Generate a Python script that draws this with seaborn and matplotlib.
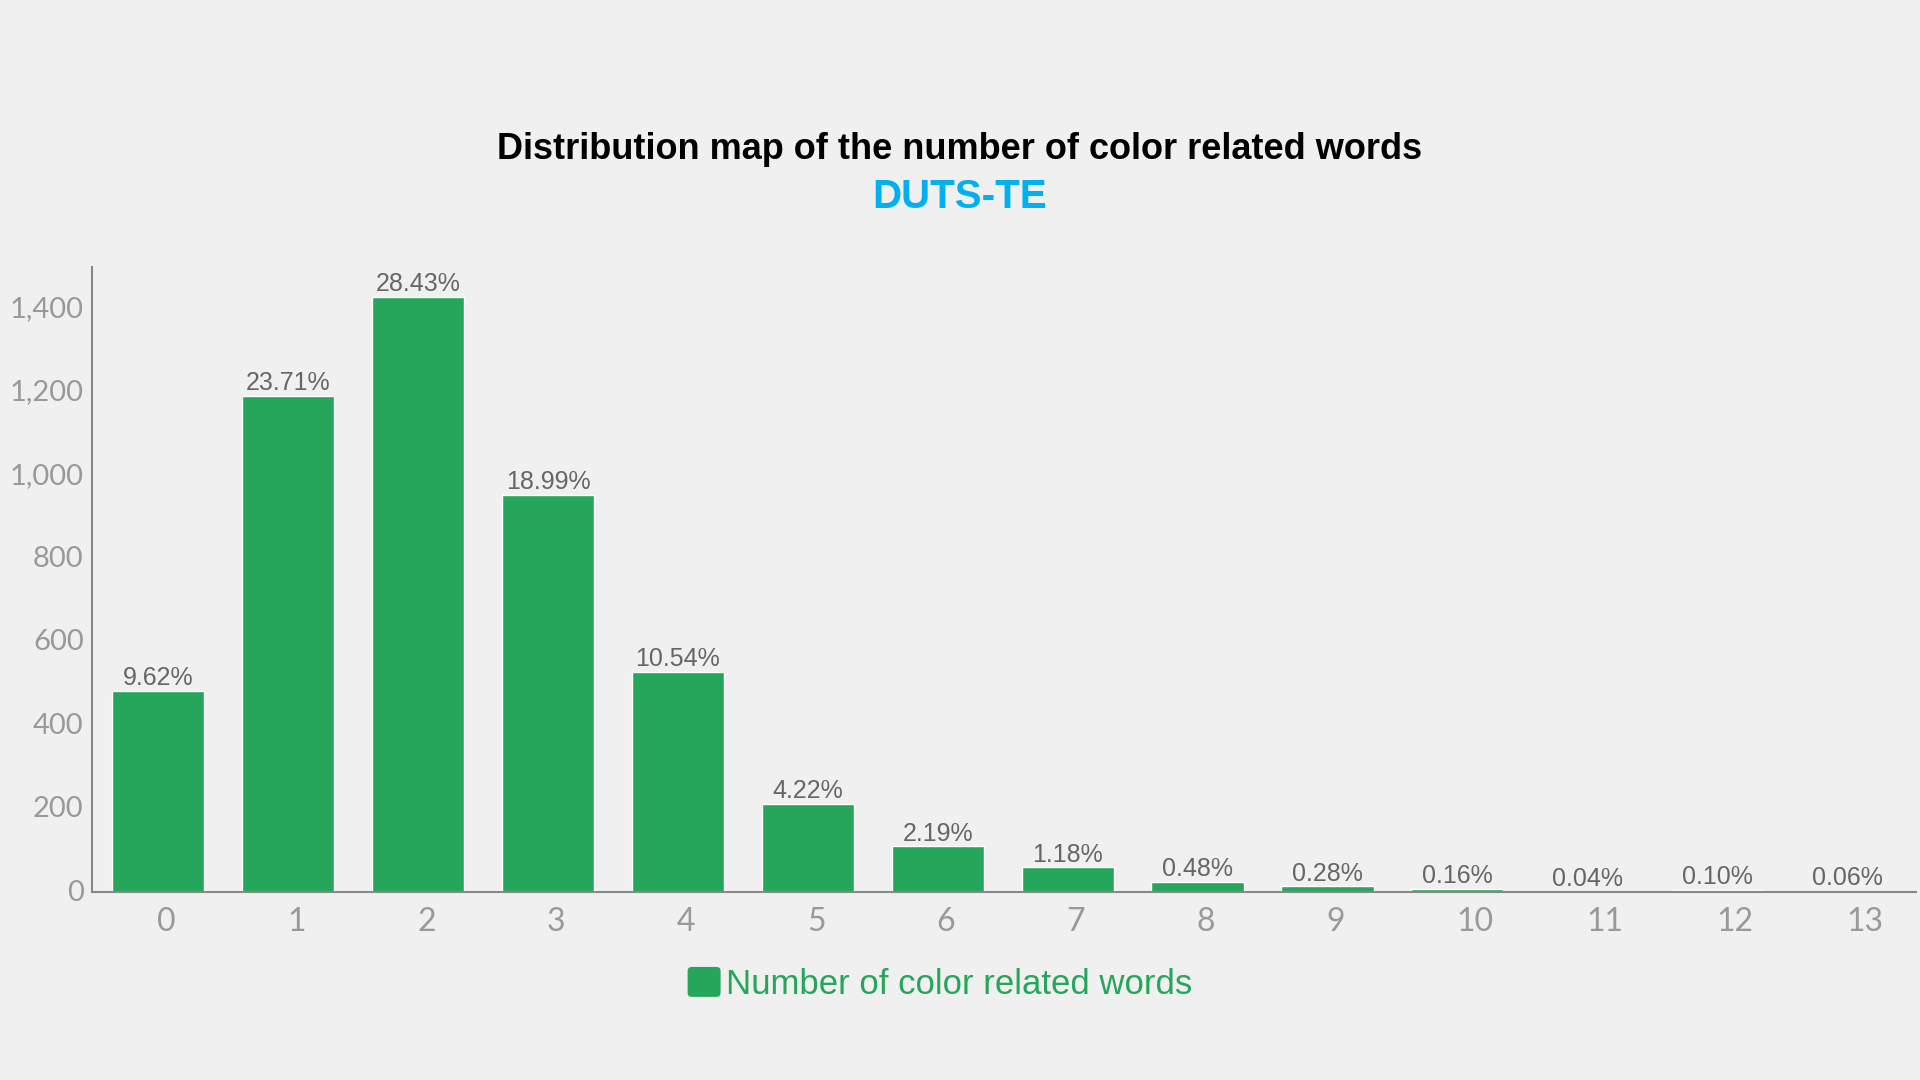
import matplotlib
matplotlib.use("Agg")
import matplotlib.pyplot as plt
import matplotlib.transforms as mtransforms
import seaborn as sns
from matplotlib.ticker import FuncFormatter
from matplotlib.patches import FancyBboxPatch, Patch
from matplotlib.legend_handler import HandlerPatch

# Données (DUTS-TE, 5019 images)
categories = [str(i) for i in range(14)]
counts = [483, 1190, 1427, 953, 529, 212, 110, 59, 24, 14, 8, 2, 5, 3]
pct_labels = ["9.62%", "23.71%", "28.43%", "18.99%", "10.54%", "4.22%", "2.19%",
              "1.18%", "0.48%", "0.28%", "0.16%", "0.04%", "0.10%", "0.06%"]
y_ticks = [0, 200, 400, 600, 800, 1000, 1200, 1400]

title = "Distribution map of the number of color related words"
subtitle = "DUTS-TE"
series_name = "Number of color related words"

bg = "#f0f0f0"
green = "#26a65b"

sns.set_theme(style="white")
plt.rcParams["font.family"] = ["Liberation Sans", "DejaVu Sans"]

fig = plt.figure(figsize=(19.2, 10.8), dpi=100, facecolor=bg)
ax = fig.add_axes([0.0479, 0.174, 0.950, 0.579])
ax.set_facecolor(bg)

sns.barplot(x=categories, y=counts, color=green, saturation=1, width=0.71, ax=ax)

# Étiquettes de pourcentage au-dessus des barres
ax.bar_label(ax.containers[0], labels=pct_labels, padding=0.5,
             fontsize=18, color="#666666")

ax.set_xlim(-0.51, 13.53)
ax.set_ylim(0, 1500)
ax.set_yticks(y_ticks)
ax.yaxis.set_major_formatter(FuncFormatter(lambda v, p: f"{int(v):,}"))
ax.set_xlabel("")
ax.set_ylabel("")

ax.tick_params(axis="y", length=0, pad=6, labelsize=21, labelcolor="#999999")
ax.tick_params(axis="x", length=0, pad=11, labelsize=23, labelcolor="#999999")

# Les libellés de l'axe x commencent au centre de la barre
x_shift = mtransforms.ScaledTranslation(-1 / 100, 0, fig.dpi_scale_trans)
for lab in ax.get_xticklabels():
    lab.set_fontfamily(["Lato", "DejaVu Sans"])
    lab.set_horizontalalignment("left")
    lab.set_transform(lab.get_transform() + x_shift)
y_shift = mtransforms.ScaledTranslation(0, 2 / 100, fig.dpi_scale_trans)
for lab in ax.get_yticklabels():
    lab.set_fontfamily(["Lato", "DejaVu Sans"])
    lab.set_transform(lab.get_transform() + y_shift)

sns.despine(ax=ax)
for side in ["left", "bottom"]:
    ax.spines[side].set_color("#888888")
    ax.spines[side].set_linewidth(1.5)

# Titre et sous-titre
fig.text(0.5, 0.862, title, ha="center", va="center", fontsize=26,
         fontweight="bold", color="black")
fig.text(0.5, 0.818, subtitle, ha="center", va="center", fontsize=29,
         fontweight="bold", color="#00b0f0")


# Légende avec un carré aux coins arrondis
def rounded_square(legend, orig_handle, xdescent, ydescent, width, height, fontsize):
    return FancyBboxPatch((-xdescent, -ydescent), width, height,
                          boxstyle="round,pad=0,rounding_size=3")


handle = Patch(facecolor=green, edgecolor="none")
fig.legend([handle], [series_name], loc="center", bbox_to_anchor=(0.4895, 0.089),
           frameon=False, fontsize=25, labelcolor=green,
           handlelength=0.95, handleheight=0.95, handletextpad=0.15,
           handler_map={Patch: HandlerPatch(patch_func=rounded_square)})

fig.savefig("out.png", dpi=100, facecolor=bg)
